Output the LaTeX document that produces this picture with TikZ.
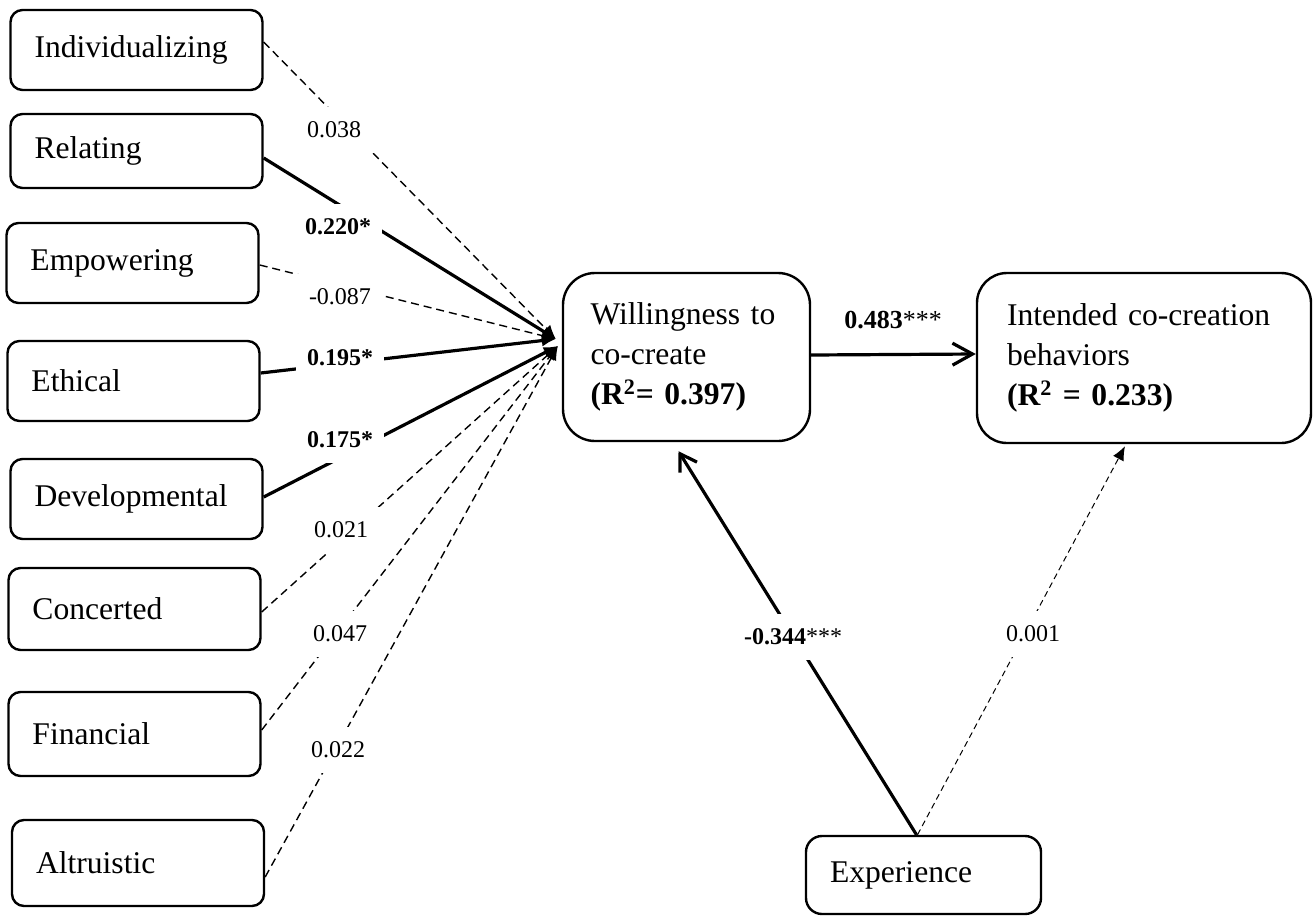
\documentclass[tikz,border=0pt]{standalone}
\usepackage{fontspec}
\setmainfont{Liberation Serif}
\usetikzlibrary{arrows.meta}

\begin{document}
\begin{tikzpicture}[x=0.5pt,y=-0.5pt,
  factor/.style={draw=black,line width=1.2pt,rounded corners=6pt,minimum width=126pt,minimum height=40pt,text width=102pt,inner xsep=12pt,align=left,font=\fontsize{15.8}{20}\selectfont},
  construct/.style={draw=black,line width=1.2pt,rounded corners=16pt,inner xsep=15pt,align=left,font=\fontsize{15.8}{20}\selectfont},
  coef/.style={fill=white,inner sep=0pt,minimum width=44pt,minimum height=23pt,font=\fontsize{12}{14}\selectfont},
  sig/.style={line width=1.6pt,-{Latex[length=7pt,width=6pt]}},
  nonsig/.style={line width=0.7pt,dash pattern=on 4pt off 2.5pt,-{Latex[length=7pt,width=6pt]}}]
\useasboundingbox (0,0) rectangle (1313,917);
%Node Coordinates
\node at (136.5,50) [factor] (Ind) {Individualizing};
\node at (136.5,151) [factor,minimum height=37pt] (Rel) {Relating};
\node at (132.5,263) [factor] (Emp) {Empowering};
\node at (133.5,381) [factor] (Eth) {Ethical};
\node at (136.5,499) [factor] (Dev) {Developmental};
\node at (134.5,609) [factor,minimum height=41pt] (Con) {Concerted};
\node at (134.5,734) [factor,minimum height=42pt] (Fin) {Financial};
\node at (138,863) [factor,minimum height=43pt] (Alt) {Altruistic};
\node at (686.5,357) [construct,text width=96pt,inner xsep=13.75pt,minimum height=84pt] (Will) {Willingness to\\co-create\\\textbf{(R\textsuperscript{2}= 0.397)}};
\node at (1144,358) [construct,text width=137pt,minimum height=85pt,rounded corners=15pt] (Int) {Intended co-creation\\behaviors\\\textbf{(R\textsuperscript{2} = 0.233)}};
\node at (923.5,875) [construct,text width=93.5pt,inner xsep=12pt,minimum height=39pt,rounded corners=8pt] (Exp) {Experience};
%Arrow Ends
\coordinate (hubA) at ([xshift=-3pt,yshift=9pt]Will.west);
\coordinate (hubB) at ([xshift=-2pt,yshift=5.5pt]Will.west);
%Connections
\draw [nonsig] ([yshift=4pt]Ind.east) -- (hubA);
\draw [sig] ([yshift=-3.5pt]Rel.east) -- (hubA);
\draw [nonsig] ([yshift=-1pt]Emp.east) -- (hubA);
\draw [sig] ([yshift=4pt]Eth.east) -- (hubA);
\draw [sig] ([yshift=1pt]Dev.east) -- (hubB);
\draw [nonsig] ([yshift=-1.5pt]Con.east) -- (hubB);
\draw [nonsig] ([yshift=2pt]Fin.east) -- (hubB);
\draw [nonsig] ([yshift=-7pt]Alt.east) -- (hubB);
\draw [line width=1.6pt,-{Straight Barb[length=10pt,width=11pt]}] ([yshift=1pt]Will.east) -- ([yshift=2pt]Int.west);
\draw [line width=1.6pt,-{Straight Barb[length=8pt,width=10pt]}] ([xshift=-3.5pt]Exp.north) -- ([xshift=-4pt,yshift=-4.5pt]Will.south);
\draw [line width=0.5pt,dash pattern=on 3pt off 2pt,-{Latex[length=7pt,width=6pt]}] ([xshift=-3pt]Exp.north) -- ([xshift=-9.5pt,yshift=-1pt]Int.south);
%Path Labels
\node at (334,130) [coef] (cInd) {0.038};
\node at (338,227) [coef] (cRel) {\textbf{0.220*}};
\node at (340,297) [coef] (cEmp) {-0.087};
\node at (340,358) [coef] (cEth) {\textbf{0.195*}};
\node at (340,440) [coef] (cDev) {\textbf{0.175*}};
\node at (341,530) [coef] (cCon) {0.021};
\node at (340,634) [coef] (cFin) {0.047};
\node at (338,750) [coef] (cAlt) {0.022};
\node at (893,320) [coef,font=\fontsize{13}{15}\selectfont] (cWill) {\textbf{0.483}***};
\node at (793,637) [coef] (cExpW) {\textbf{-0.344}***};
\node at (1033,634) [coef] (cExpI) {0.001};
\end{tikzpicture}
\end{document}
